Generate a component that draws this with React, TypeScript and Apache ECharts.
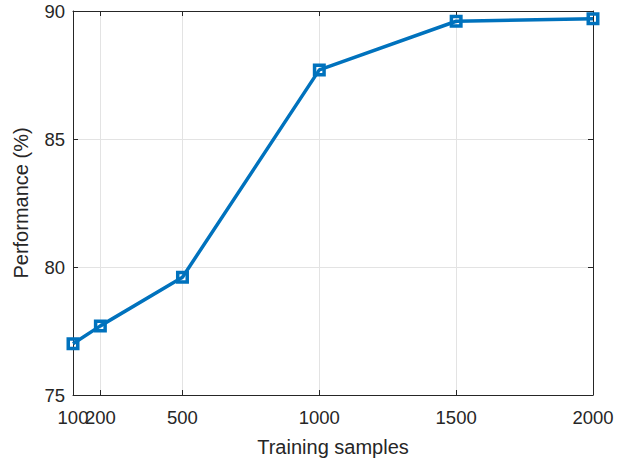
import React, { useEffect, useRef } from "react";
import * as echarts from "echarts";

const samples = [100, 200, 500, 1000, 1500, 2000];
const performance = [77.0, 77.7, 79.6, 87.7, 89.6, 89.7];
const xTicks = [100, 200, 500, 1000, 1500, 2000];
const xLabelsMain = [100, 500, 1000, 1500, 2000];
const xLabelsExtra = [200];
const yTicks = [75, 80, 85, 90];

const FONT = "'Liberation Sans', Arial, Helvetica, sans-serif";
const TXT = "#262626";
const BLUE = "#0072BD";

export default function App() {
  const ref = useRef<HTMLDivElement>(null);
  useEffect(() => {
    document.body.style.margin = "0";
    if (!ref.current) return;
    const chart = echarts.init(ref.current, undefined, { renderer: "svg" });
    const baseX = {
      type: "value" as const,
      min: 100,
      max: 2000,
      axisLine: { show: true, onZero: false, lineStyle: { color: TXT, width: 1 } },
      axisTick: { show: true, inside: true, length: 5, customValues: xTicks, lineStyle: { color: TXT } },
    };
    const xLabelStyle = {
      show: true,
      color: TXT,
      fontSize: 18.5,
      fontFamily: FONT,
      margin: 13,
      hideOverlap: false,
      formatter: (v: number) => String(v),
    };
    const baseY = {
      type: "value" as const,
      min: 75,
      max: 90,
      interval: 5,
      axisLine: { show: true, onZero: false, lineStyle: { color: TXT, width: 1 } },
      axisTick: { show: true, inside: true, length: 5, lineStyle: { color: TXT } },
    };
    chart.setOption({
      animation: false,
      backgroundColor: "#ffffff",
      textStyle: { fontFamily: FONT },
      grid: { left: 73, right: 34, top: 11, bottom: 65, containLabel: false },
      xAxis: [
        {
          ...baseX,
          position: "bottom",
          name: "Training samples",
          nameLocation: "middle",
          nameGap: 42,
          nameTextStyle: { color: TXT, fontSize: 20, fontFamily: FONT },
          axisLabel: { ...xLabelStyle, customValues: xLabelsMain },
          splitLine: { show: true, lineStyle: { color: "#e3e3e3", width: 1 } },
        },
        {
          ...baseX,
          position: "top",
          axisLabel: { show: false },
          splitLine: { show: false },
        },
        {
          ...baseX,
          position: "bottom",
          axisLine: { show: false },
          axisTick: { show: false },
          axisLabel: { ...xLabelStyle, customValues: xLabelsExtra },
          splitLine: { show: false },
        },
      ],
      yAxis: [
        {
          ...baseY,
          position: "left",
          name: "Performance (%)",
          nameLocation: "middle",
          nameGap: 42,
          nameRotate: 90,
          nameTextStyle: { color: TXT, fontSize: 20, fontFamily: FONT },
          axisLabel: {
            show: true,
            color: TXT,
            fontSize: 18.5,
            fontFamily: FONT,
            margin: 8,
            formatter: (v: number) => (yTicks.includes(v) ? String(v) : ""),
          },
          splitLine: { show: true, lineStyle: { color: "#e3e3e3", width: 1 } },
        },
        {
          ...baseY,
          position: "right",
          axisLabel: { show: false },
          splitLine: { show: false },
        },
      ],
      series: [
        {
          type: "line",
          data: samples.map((s, i) => [s, performance[i]]),
          xAxisIndex: 0,
          yAxisIndex: 0,
          symbol: "rect",
          symbolSize: 9.5,
          showAllSymbol: true,
          lineStyle: { color: BLUE, width: 3.5 },
          itemStyle: { color: "rgba(255,255,255,0)", borderColor: BLUE, borderWidth: 3.5 },
          z: 3,
        },
      ],
    });
    return () => chart.dispose();
  }, []);
  return <div ref={ref} style={{ width: 627, height: 462 }} />;
}
